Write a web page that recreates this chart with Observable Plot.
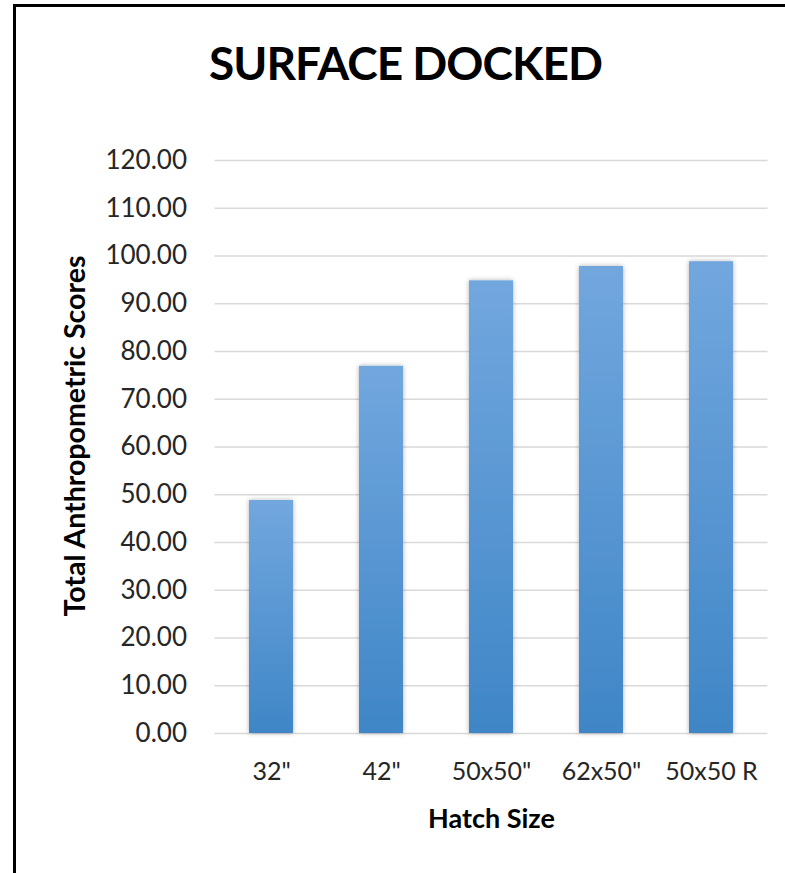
<!DOCTYPE html>
<html>
<head>
<meta charset="utf-8">
<script src="https://cdn.jsdelivr.net/npm/d3@7"></script>
<script src="https://cdn.jsdelivr.net/npm/@observablehq/plot@0.6"></script>
<style>
  html, body { margin: 0; padding: 0; background: #fff; overflow: hidden; }
  #wrap { position: relative; width: 785px; height: 873px; }
  #frame { position: absolute; left: 13px; top: 4px; width: 900px; height: 1000px;
           border-left: 3px solid #000; border-top: 3px solid #000; box-sizing: border-box; }
  #title { position: absolute; left: 0; width: 811px; top: 40px; text-align: center;
           font-family: Lato, sans-serif; font-weight: bold; font-size: 46px; letter-spacing: -1px;
           line-height: 1; color: #000; }
  #chart { position: absolute; left: 0; top: 0; }
</style>
</head>
<body>
<div id="wrap">
  <div id="frame"></div>
  <div id="chart"></div>
  <div id="title">SURFACE DOCKED</div>
</div>
<script>
const categories = ['32"', '42"', '50x50"', '62x50"', '50x50 R'];
const scores = [48.8, 76.9, 94.8, 97.8, 98.8];
const yTicks = [0, 10, 20, 30, 40, 50, 60, 70, 80, 90, 100, 110, 120];
const xTitle = "Hatch Size";
const yTitle = "Total Anthropometric Scores";

const data = categories.map((c, i) => ({category: c, score: scores[i]}));

const chart = Plot.plot({
  width: 785,
  height: 873,
  marginLeft: 214.5,
  marginRight: 17.5,
  marginTop: 160,
  marginBottom: 140,
  style: {fontFamily: "Lato, sans-serif", fontSize: "25px", color: "#262626", background: "transparent"},
  x: {domain: categories, paddingInner: 0.6, paddingOuter: 0.3, label: null},
  y: {domain: [0, 120], label: null},
  marks: [
    Plot.gridY(yTicks, {stroke: "#d9d9d9", strokeOpacity: 1, strokeWidth: 1.5}),
    Plot.barY(data, {x: "category", y: "score", fill: "url(#barGrad)"}),
    Plot.axisY(yTicks, {tickSize: 0, tickPadding: 28, tickFormat: d3.format(".2f"), label: null, fontSize: 26}),
    Plot.axisX({tickSize: 0, tickPadding: 29, label: null, fontSize: 25}),
    Plot.text([yTitle], {text: d => d, frameAnchor: "left", textAnchor: "middle", lineAnchor: "middle",
      rotate: -90, dx: -139.5, dy: -11, fontWeight: "bold", fontSize: 28.5, fill: "#000"}),
    Plot.text([xTitle], {text: d => d, frameAnchor: "bottom", textAnchor: "middle", lineAnchor: "middle",
      dy: 86, fontWeight: "bold", fontSize: 27, fill: "#000"})
  ]
});

const svg = d3.select(chart);
const defs = svg.insert("defs", ":first-child");
const grad = defs.append("linearGradient").attr("id", "barGrad")
  .attr("x1", 0).attr("y1", 0).attr("x2", 0).attr("y2", 1);
grad.append("stop").attr("offset", "0%").attr("stop-color", "#72a7de");
grad.append("stop").attr("offset", "100%").attr("stop-color", "#3f86c7");
const filt = defs.append("filter").attr("id", "barShadow")
  .attr("x", "-30%").attr("y", "-10%").attr("width", "160%").attr("height", "120%");
filt.append("feDropShadow").attr("dx", 0).attr("dy", 0).attr("stdDeviation", 2.5)
  .attr("flood-color", "#000").attr("flood-opacity", 0.3);
svg.selectAll('g[aria-label="bar"] rect').attr("filter", "url(#barShadow)");

document.getElementById("chart").appendChild(chart);
</script>
</body>
</html>
